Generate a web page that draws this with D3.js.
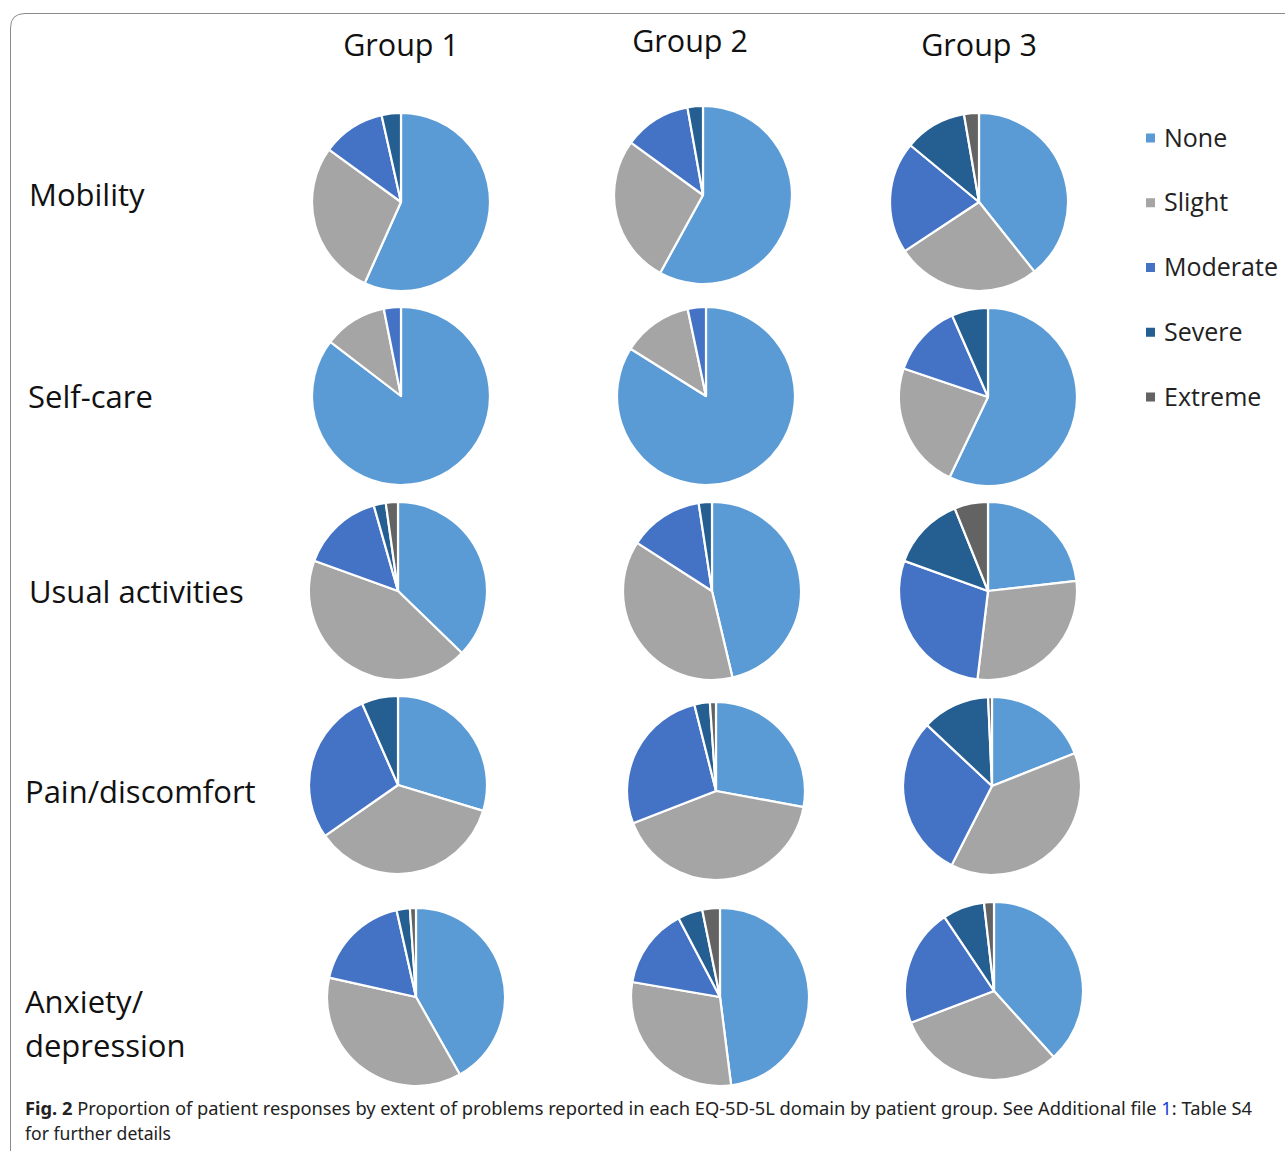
<!DOCTYPE html>
<html><head><meta charset="utf-8">
<script src="https://cdn.jsdelivr.net/npm/d3@7"></script>
<style>body{margin:0;background:#fff}svg{display:block}</style>
</head><body>
<svg id="c" width="1285" height="1151"></svg>
<script>
// ---- data ----
const groups = ["Group 1", "Group 2", "Group 3"];
const domains = ["Mobility", "Self-care", "Usual activities", "Pain/discomfort", "Anxiety/depression"];
const levels = ["None", "Slight", "Moderate", "Severe", "Extreme"];
// percentage of responses per level [None, Slight, Moderate, Severe, Extreme], per group
const mobility   = [[56.7, 28.3, 11.5, 3.5, 0], [58.0, 27.0, 12.2, 2.8, 0], [39.3, 26.4, 20.3, 11.3, 2.7]];
const selfCare   = [[85.4, 11.5, 3.1, 0, 0], [83.9, 12.8, 3.3, 0, 0], [57.1, 23.1, 13.2, 6.6, 0]];
const usualAct   = [[37.3, 43.3, 15.1, 2.2, 2.2], [46.3, 37.8, 13.5, 2.4, 0], [23.2, 28.7, 28.6, 13.4, 6.1]];
const pain       = [[29.7, 35.6, 28.1, 6.6, 0], [27.9, 41.2, 27.0, 2.8, 1.1], [19.0, 38.5, 29.5, 12.3, 0.7]];
const anxiety    = [[41.8, 36.7, 18.0, 2.4, 1.1], [48.0, 29.7, 14.6, 4.5, 3.2], [38.3, 30.9, 21.4, 7.6, 1.8]];
const domainValues = [mobility, selfCare, usualAct, pain, anxiety];

// ---- layout / style ----
const colors = ["#5B9BD5", "#A5A5A5", "#4472C4", "#255E91", "#636363"];
const colCenters = [403, 711, 988];
const rowCenters = [200, 396, 591, 787, 995];
const nudges = [ // small per-pie offsets [dx, dy] as in the original figure
  [[-2, 2], [-8, -5], [-9, 2]],
  [[-2, 0], [-5, 0], [0, 1]],
  [[-5, 0], [1, 0], [0, 0]],
  [[-5, -2], [5, 4], [4, -1]],
  [[13, 2], [9, 2], [6, -4]]
];
const svg = d3.select("#c");

// frame
svg.append("path")
  .attr("d", "M10.5,1151 L10.5,28 Q10.5,13.5 25,13.5 L1290,13.5")
  .attr("fill", "none").attr("stroke", "#8a8a8a").attr("stroke-width", 1);

const x = d3.scaleOrdinal().domain(groups).range(colCenters);
const y = d3.scaleOrdinal().domain(domains).range(rowCenters);
const R = 89;
const pie = d3.pie().sort(null).value(d => d);
const arc = d3.arc().innerRadius(0).outerRadius(R);
const color = d3.scaleOrdinal().domain(levels).range(colors);

const font = "'Open Sans', 'Noto Sans', sans-serif";

// group titles
const titleX = [401, 690, 979];
const titleY = [56, 52, 56];
svg.selectAll("text.g").data(groups).join("text")
  .attr("class", "g")
  .attr("x", (d, i) => titleX[i])
  .attr("y", (d, i) => titleY[i])
  .attr("text-anchor", "middle")
  .attr("font-family", font).attr("font-size", 30.5).attr("fill", "#111")
  .text(d => d);

// row labels
const labelPos = [[29, 206], [28, 408], [29, 603], [25, 803], [25, 1013]];
domains.forEach((d, i) => {
  const t = svg.append("text")
    .attr("x", labelPos[i][0]).attr("y", labelPos[i][1])
    .attr("font-family", font).attr("font-size", 31).attr("fill", "#111");
  if (d === "Anxiety/depression") {
    t.append("tspan").attr("x", labelPos[i][0]).text("Anxiety/");
    t.append("tspan").attr("x", labelPos[i][0]).attr("dy", 44).text("depression");
  } else t.text(d);
});

// pies
domains.forEach((dom, r) => {
  groups.forEach((g, c) => {
    const vals = domainValues[r][c];
    const cx = x(g) + nudges[r][c][0], cy = y(dom) + nudges[r][c][1];
    const gp = svg.append("g").attr("transform", `translate(${cx},${cy})`);
    gp.selectAll("path").data(pie(vals).filter(a => a.value > 0)).join("path")
      .attr("d", arc)
      .attr("fill", a => color(levels[a.index]))
      .attr("stroke", "#fff").attr("stroke-width", 2.2).attr("stroke-linejoin", "round");
  });
});

// legend
const ly = d3.scalePoint().domain(levels).range([138, 397]);
const lg = svg.append("g");
lg.selectAll("rect").data(levels).join("rect")
  .attr("x", 1146).attr("y", d => ly(d) - 4.5).attr("width", 9).attr("height", 9)
  .attr("fill", d => color(d));
lg.selectAll("text").data(levels).join("text")
  .attr("x", 1164).attr("y", d => ly(d) + 8.5)
  .attr("font-family", font).attr("font-size", 25).attr("fill", "#222")
  .text(d => d);

// caption
const cap = svg.append("text").attr("x", 25).attr("y", 1115)
  .attr("font-family", "'Noto Sans', sans-serif").attr("font-size", 18).attr("fill", "#222")
  .attr("textLength", 1227).attr("lengthAdjust", "spacingAndGlyphs");
cap.append("tspan").attr("font-weight", "bold").text("Fig. 2");
cap.append("tspan").text("  Proportion of patient responses by extent of problems reported in each EQ-5D-5L domain by patient group. See Additional file ");
cap.append("tspan").attr("fill", "#1a3fd6").text("1");
cap.append("tspan").text(": Table S4");
svg.append("text").attr("x", 25).attr("y", 1140)
  .attr("font-family", "'Noto Sans', sans-serif").attr("font-size", 18).attr("fill", "#222")
  .attr("textLength", 146).attr("lengthAdjust", "spacingAndGlyphs")
  .text("for further details");
</script>
</body></html>
